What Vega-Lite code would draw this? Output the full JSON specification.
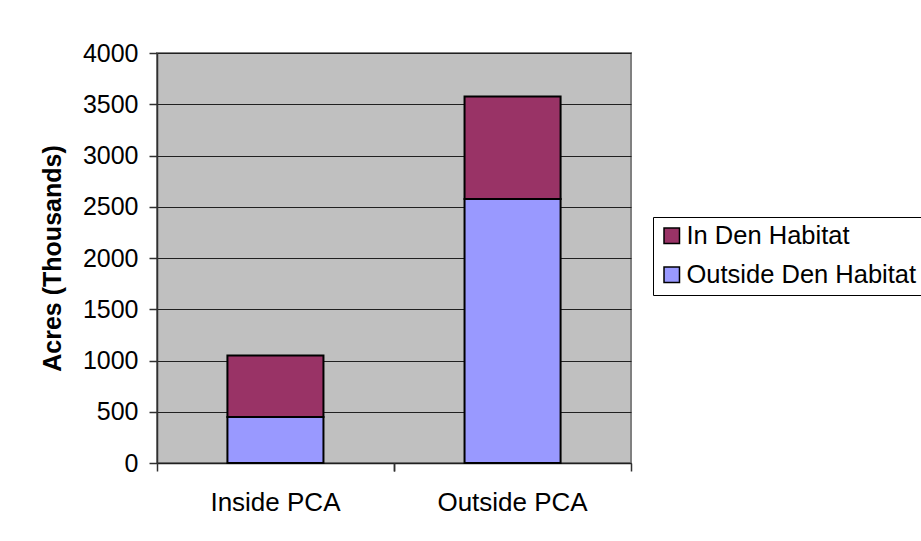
{
  "$schema": "https://vega.github.io/schema/vega-lite/v6.json",
  "width": 474,
  "height": 410,
  "autosize": {"type": "none"},
  "padding": {"left": 157, "top": 53, "right": 290, "bottom": 78},
  "background": "white",
  "data": {
    "values": [
      {"area": "Inside PCA", "habitat": "Outside Den Habitat", "acres": 450},
      {"area": "Inside PCA", "habitat": "In Den Habitat", "acres": 600},
      {"area": "Outside PCA", "habitat": "Outside Den Habitat", "acres": 2575},
      {"area": "Outside PCA", "habitat": "In Den Habitat", "acres": 1000}
    ]
  },
  "encoding": {
    "x": {
      "field": "area",
      "type": "nominal",
      "sort": ["Inside PCA", "Outside PCA"],
      "scale": {"paddingInner": 0.595, "paddingOuter": 0.297}
    }
  },
  "layer": [
    {
      "mark": {"type": "bar", "stroke": "black", "strokeWidth": 2},
      "encoding": {
        "x": {
          "field": "area",
          "type": "nominal",
          "sort": ["Inside PCA", "Outside PCA"],
          "axis": {
            "title": null,
            "orient": "bottom",
            "labelAngle": 0,
            "labelFont": "Liberation Sans",
            "labelFontSize": 26,
            "labelColor": "black",
            "labelPadding": 26,
            "ticks": false,
            "domainColor": "#202020",
            "domainWidth": 1.5,
            "grid": false
          }
        },
        "y": {
          "field": "acres",
          "type": "quantitative",
          "stack": "zero",
          "scale": {"domain": [0, 4000], "nice": false},
          "axis": {
            "title": "Acres (Thousands)",
            "titleFont": "Liberation Sans",
            "titleFontSize": 25,
            "titleFontWeight": "bold",
            "titleColor": "black",
            "titlePadding": 17,
            "values": [0, 500, 1000, 1500, 2000, 2500, 3000, 3500, 4000],
            "format": "d",
            "labelFont": "Liberation Sans",
            "labelFontSize": 25,
            "labelColor": "black",
            "labelPadding": 11,
            "tickSize": 8,
            "tickColor": "#303030",
            "tickWidth": 1.5,
            "domainColor": "#303030",
            "domainWidth": 1.5,
            "grid": true,
            "gridColor": "#202020",
            "gridWidth": 1.2
          }
        },
        "color": {
          "field": "habitat",
          "type": "nominal",
          "scale": {
            "domain": ["In Den Habitat", "Outside Den Habitat"],
            "range": ["#993366", "#9999FF"]
          },
          "legend": {
            "title": null,
            "orient": "none",
            "legendX": 496,
            "legendY": 164,
            "direction": "vertical",
            "symbolType": "square",
            "symbolSize": 240,
            "symbolStrokeColor": "black",
            "symbolStrokeWidth": 1.5,
            "symbolOpacity": 1,
            "labelFont": "Liberation Sans",
            "labelFontSize": 25.5,
            "labelColor": "black",
            "labelOffset": 2,
            "labelLimit": 400,
            "rowPadding": 12,
            "padding": 6,
            "strokeColor": "black",
            "fillColor": "white"
          }
        },
        "order": {"field": "habitat", "sort": "descending"}
      }
    },
    {
      "mark": {"type": "rule", "opacity": 0},
      "encoding": {
        "x": {
          "field": "area",
          "type": "nominal",
          "sort": ["Inside PCA", "Outside PCA"],
          "axis": {
            "title": null,
            "orient": "bottom",
            "labels": false,
            "domain": false,
            "grid": false,
            "bandPosition": -0.73,
            "ticks": true,
            "tickSize": 8,
            "tickColor": "#303030",
            "tickWidth": 1.5
          }
        }
      }
    },
    {
      "mark": {"type": "rule", "opacity": 0},
      "encoding": {
        "x": {
          "field": "area",
          "type": "nominal",
          "sort": ["Inside PCA", "Outside PCA"],
          "axis": {
            "title": null,
            "orient": "bottom",
            "labels": false,
            "domain": false,
            "grid": false,
            "bandPosition": 1.74,
            "ticks": true,
            "tickSize": 8,
            "tickColor": "#303030",
            "tickWidth": 1.5
          }
        }
      }
    }
  ],
  "resolve": {"axis": {"x": "independent"}},
  "config": {
    "view": {"fill": "#C0C0C0", "stroke": "#808080", "strokeWidth": 2}
  }
}
